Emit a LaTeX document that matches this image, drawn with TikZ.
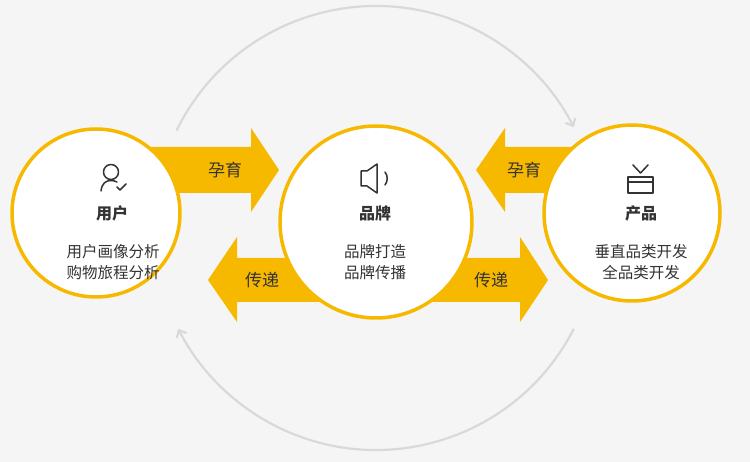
\documentclass[tikz,border=0pt]{standalone}
\usepackage{fontspec}
\setmainfont{Noto Sans CJK SC}
\usetikzlibrary{arrows.meta}
\definecolor{bg}{HTML}{F5F5F5}
\definecolor{yel}{HTML}{F7B800}
\definecolor{txt}{HTML}{333333}
\definecolor{arcg}{HTML}{D9D9D9}
\begin{document}
\begin{tikzpicture}[x=1pt,y=-1pt,
  ring/.style={circle,draw=yel,line width=3.5pt,fill=white},
  title/.style={text=txt,font=\fontsize{16}{18}\selectfont\bfseries},
  body/.style={text=txt,font=\fontsize{15.5}{21}\selectfont,align=center},
  alab/.style={text=txt,font=\fontsize{17}{18}\selectfont},
  ico/.style={draw=txt,line width=1.5pt,line cap=round,line join=round}]
\fill[bg] (0,0) rectangle (750,462);
\useasboundingbox (0,0) rectangle (750,462);
% gray cycle arcs
\draw[arcg,line width=2.2pt,-{Straight Barb[length=6pt,width=11pt]}] (376,228) ++(-154:222) arc[start angle=-154,end angle=-27,radius=222];
\draw[arcg,line width=2.2pt,-{Straight Barb[length=6pt,width=11pt]}] (376,228) ++(27:222) arc[start angle=27,end angle=153,radius=222];
% arrows
\fill[yel] (150,147) -- (251,147) -- (251,128) -- (279,170) -- (251,212) -- (251,193) -- (150,193) -- cycle;
\fill[yel] (330,258) -- (237,258) -- (237,237) -- (208,280) -- (237,322) -- (237,302) -- (330,302) -- cycle;
\fill[yel] (600,147) -- (505,147) -- (505,128) -- (476,170) -- (505,212) -- (505,193) -- (600,193) -- cycle;
\fill[yel] (420,258) -- (520,258) -- (520,237) -- (548,280) -- (520,322) -- (520,302) -- (420,302) -- cycle;
% circles
\node[ring,minimum size=168pt] (user) at (96,213) {};
\node[ring,minimum size=192pt] (brand) at (376,222) {};
\node[ring,minimum size=176pt] (prod) at (632,213) {};
% arrow labels
\node[alab] (l1) at (225,170) {孕育};
\node[alab] (l2) at (262,280) {传递};
\node[alab] (l3) at (524,170) {孕育};
\node[alab] (l4) at (491,280) {传递};
% texts
\node[title] (t1) at (112,213) {用户};
\node[body] (b1) at (113,262) {用户画像分析\\购物旅程分析};
\node[title] (t2) at (375,213) {品牌};
\node[body] (b2) at (375,262) {品牌打造\\品牌传播};
\node[title] (t3) at (641,213) {产品};
\node[body] (b3) at (641,262) {垂直品类开发\\全品类开发};
% icons
\draw[ico] (111,172) circle (7.5);
\draw[ico] (101,191) .. controls (102,183) and (106,180.5) .. (111,180.5) .. controls (113,180.5) and (115,181) .. (117,182);
\draw[ico] (117,187) -- (120,190) -- (126,184);
\draw[ico] (361,171) -- (367,171) -- (377,164) -- (377,193) -- (367,186) -- (361,186) -- cycle;
\draw[ico] (385,172) .. controls (388,176) and (388,181) .. (385,185);
\draw[ico] (628,177) rectangle (653,193);
\draw[ico] (628,182) -- (653,182);
\draw[ico] (633,165) -- (640.5,173) -- (648,165);
\end{tikzpicture}
\end{document}
